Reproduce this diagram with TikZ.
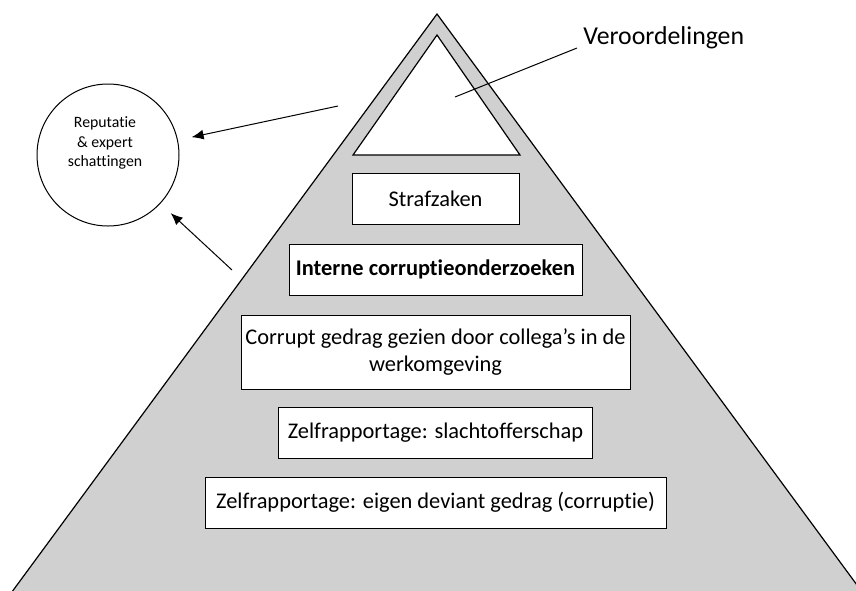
\documentclass[tikz,border=0pt]{standalone}
\usepackage{fontspec}
\setmainfont{Carlito}[Ligatures=NoCommon]
\usetikzlibrary{positioning, arrows.meta}
\definecolor{pyramidgray}{RGB}{208,208,208}
\tikzset{>={Latex[length=6pt,width=5pt]}}
\tikzset{
    level/.style = {rectangle, draw, fill=white, line width=0.5pt, minimum height=25.5pt,
                        inner sep=0pt, align=center, font=\fontsize{11.2}{13.5}\selectfont},
    bubble/.style = {circle, draw, line width=0.5pt, minimum size=71pt, inner sep=0pt}
}
\begin{document}
\begin{tikzpicture}[x=0.5pt, y=-0.5pt]
		\useasboundingbox (0,0) rectangle (856,590);
		\clip (0,0) rectangle (856,590);
		\draw [fill=pyramidgray, line width=0.6pt] (437,14) -- (868,600) -- (6,600) -- cycle;
		\draw [fill=white, line width=0.6pt] (437,35) -- (520,155) -- (353,155) -- cycle;
		\node (straf) [level, minimum width=83.5pt] at (435.5,198.5) {Strafzaken};
		\node (intern) [level, minimum width=146.5pt, below=9.5pt of straf] {\bfseries Interne corruptieonderzoeken};
		\node (collega) [level, minimum width=194.5pt, minimum height=37pt, below=9.5pt of intern]
			{Corrupt gedrag gezien door collega’s in de\\werkomgeving};
		\node (slachtoffer) [level, minimum width=157pt, below=8.5pt of collega] {Zelfrapportage: slachtofferschap};
		\node (eigen) [level, minimum width=230.5pt, below=9pt of slachtoffer] {Zelfrapportage: eigen deviant gedrag (corruptie)};
		\node (rep) [bubble] at (108,155) {};
		\node (reptext) [align=center, font=\fontsize{7.9}{9.75}\selectfont] at (105,143) {Reputatie\\\& expert\\schattingen};
		\node (veroord) [anchor=base west, inner sep=0pt, font=\fontsize{12.9}{15}\selectfont] at (583,44) {Veroordelingen};
		\coordinate (top) at (338,106);
		\coordinate (side) at (232,270);
		\coordinate (inside) at (455,97);
		\draw [->, line width=0.5pt, shorten >=7pt] (top) -- (rep);
		\draw [->, line width=0.5pt, shorten >=7pt] (side) -- (rep);
		\draw [line width=0.5pt] ([shift={(-3pt,-2pt)}]veroord.base west) -- (inside);
	\end{tikzpicture}
\end{document}
